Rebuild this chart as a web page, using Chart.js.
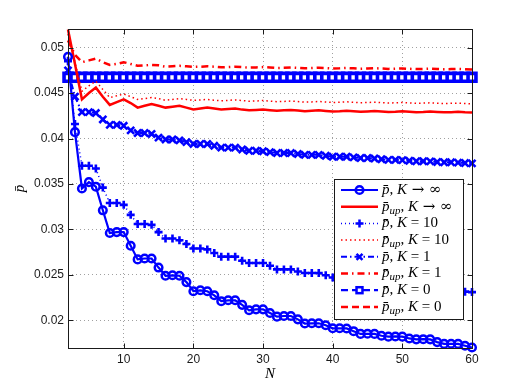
<!DOCTYPE html>
<html>
<head>
<meta charset="utf-8">
<script src="https://cdn.jsdelivr.net/npm/chart.js@4.4.1/dist/chart.umd.min.js"></script>
<style>
  body { margin: 0; background: #fff; }
  #marco { width: 522px; height: 392px; }
</style>
</head>
<body>
<div id="marco"><canvas id="grafica" width="522" height="392"></canvas></div>
<script>
// eje N
const valoresN = [2, 3, 4, 5, 6, 7, 8, 9, 10, 11, 12, 13, 14, 15, 16, 17, 18, 19, 20, 21,
  22, 23, 24, 25, 26, 27, 28, 29, 30, 31, 32, 33, 34, 35, 36, 37, 38, 39, 40, 41,
  42, 43, 44, 45, 46, 47, 48, 49, 50, 51, 52, 53, 54, 55, 56, 57, 58, 59, 60];

const ticksX = [10, 20, 30, 40, 50, 60];
const ticksY = [0.02, 0.025, 0.03, 0.035, 0.04, 0.045, 0.05];

// p barra, K -> inf
const pBarInf = [0.0490, 0.0407, 0.0345, 0.0352, 0.0347, 0.0321, 0.0296, 0.0297, 0.0297, 0.0282,
  0.0267, 0.0268, 0.0268, 0.0258, 0.0249, 0.02495, 0.0249, 0.0242, 0.0232, 0.0233,
  0.0232, 0.02275, 0.0221, 0.0222, 0.0222, 0.0217, 0.0211, 0.0212, 0.0212, 0.0208,
  0.0204, 0.02047, 0.02047, 0.0201, 0.01964, 0.01967, 0.01967, 0.01945, 0.01912, 0.01912,
  0.0191, 0.0188, 0.0185, 0.01852, 0.0185, 0.0183, 0.0182, 0.01822, 0.0182, 0.018,
  0.0179, 0.01792, 0.0179, 0.0176, 0.0174, 0.01742, 0.0174, 0.0172, 0.0170];

// p up, K -> inf
const pUpInf = [0.0520, 0.0482, 0.0443, 0.0450, 0.0456, 0.0446, 0.0437, 0.0440, 0.0443, 0.0439,
  0.0434, 0.0436, 0.0438, 0.0436, 0.0434, 0.0435, 0.0436, 0.0434, 0.0432, 0.0433,
  0.0434, 0.0433, 0.0432, 0.04325, 0.0433, 0.04318, 0.0431, 0.04315, 0.0432, 0.04312,
  0.04305, 0.0431, 0.04315, 0.04308, 0.0430, 0.04305, 0.0431, 0.04303, 0.04297, 0.0430,
  0.04305, 0.0430, 0.04295, 0.04298, 0.04302, 0.04297, 0.04292, 0.04295, 0.0430, 0.04295,
  0.0429, 0.04293, 0.04298, 0.04293, 0.04288, 0.0429, 0.04295, 0.0429, 0.04287];

// p barra, K = 10
const pBar10 = [0.0485, 0.0416, 0.0370, 0.0370, 0.0367, 0.0346, 0.0329, 0.0329, 0.0327, 0.0316,
  0.0306, 0.0306, 0.0305, 0.0297, 0.0290, 0.0290, 0.0288, 0.0284, 0.0279, 0.0279,
  0.0278, 0.0274, 0.0270, 0.0270, 0.0270, 0.02655, 0.0263, 0.0263, 0.0263, 0.0260,
  0.0256, 0.0256, 0.0256, 0.02536, 0.0252, 0.0252, 0.0252, 0.02496, 0.0247, 0.0247,
  0.0247, 0.0245, 0.02435, 0.02435, 0.02432, 0.02415, 0.0240, 0.0240, 0.0240, 0.02385,
  0.0237, 0.0237, 0.02368, 0.02355, 0.0234, 0.0234, 0.0234, 0.02315, 0.0231];

// p up, K = 10
const pUp10 = [0.0515, 0.0484, 0.0452, 0.0458, 0.0463, 0.0454, 0.0445, 0.0447, 0.0449, 0.0446,
  0.0443, 0.0444, 0.0445, 0.0444, 0.0442, 0.0443, 0.0444, 0.0443, 0.0442, 0.04425,
  0.0443, 0.04422, 0.04415, 0.0442, 0.04425, 0.04418, 0.0441, 0.04413, 0.04418, 0.04412,
  0.04405, 0.04408, 0.04412, 0.04407, 0.0440, 0.04403, 0.04408, 0.04402, 0.04396, 0.0440,
  0.04404, 0.04398, 0.04393, 0.04396, 0.0440, 0.04395, 0.0439, 0.04393, 0.04396, 0.04392,
  0.04387, 0.0439, 0.04393, 0.04388, 0.04384, 0.04387, 0.0439, 0.04385, 0.0438];

// p barra, K = 1
const pBar1 = [0.0475, 0.0446, 0.0429, 0.0429, 0.0428, 0.0421, 0.0415, 0.0415, 0.0414, 0.0409,
  0.0406, 0.0406, 0.0405, 0.0401, 0.0399, 0.0399, 0.0398, 0.0396, 0.0394, 0.0394,
  0.0394, 0.0392, 0.0390, 0.0390, 0.0390, 0.0388, 0.03865, 0.03865, 0.0386, 0.0385,
  0.0384, 0.0384, 0.0384, 0.0383, 0.0382, 0.0382, 0.0382, 0.0381, 0.0380, 0.0380,
  0.0380, 0.03792, 0.03785, 0.03785, 0.0378, 0.03772, 0.03765, 0.03765, 0.03762, 0.03755,
  0.0375, 0.0375, 0.03748, 0.03742, 0.03738, 0.03738, 0.03735, 0.0373, 0.03726];

// p up, K = 1
const pUp1 = [0.0508, 0.0492, 0.0484, 0.0486, 0.0488, 0.0484, 0.0481, 0.0482, 0.0484, 0.0482,
  0.0480, 0.04805, 0.0481, 0.04805, 0.0479, 0.04795, 0.0480, 0.04795, 0.04788, 0.0479,
  0.04795, 0.0479, 0.04783, 0.04786, 0.0479, 0.04785, 0.0478, 0.04782, 0.04786, 0.04781,
  0.04776, 0.04778, 0.04782, 0.04778, 0.04773, 0.04775, 0.04779, 0.04775, 0.0477, 0.04772,
  0.04776, 0.04772, 0.04768, 0.0477, 0.04773, 0.0477, 0.04766, 0.04768, 0.04771, 0.04767,
  0.04764, 0.04766, 0.04769, 0.04765, 0.04762, 0.04764, 0.04767, 0.04763, 0.0476];

// p barra, K = 0
const pBar0 = [0.04673, 0.04673, 0.04673, 0.04673, 0.04673, 0.04673, 0.04673, 0.04673, 0.04673, 0.04673,
  0.04673, 0.04673, 0.04673, 0.04673, 0.04673, 0.04673, 0.04673, 0.04673, 0.04673, 0.04673,
  0.04673, 0.04673, 0.04673, 0.04673, 0.04673, 0.04673, 0.04673, 0.04673, 0.04673, 0.04673,
  0.04673, 0.04673, 0.04673, 0.04673, 0.04673, 0.04673, 0.04673, 0.04673, 0.04673, 0.04673,
  0.04673, 0.04673, 0.04673, 0.04673, 0.04673, 0.04673, 0.04673, 0.04673, 0.04673, 0.04673,
  0.04673, 0.04673, 0.04673, 0.04673, 0.04673, 0.04673, 0.04673, 0.04673, 0.04673];

// p up, K = 0
const pUp0 = [0.04673, 0.04673, 0.04673, 0.04673, 0.04673, 0.04673, 0.04673, 0.04673, 0.04673, 0.04673,
  0.04673, 0.04673, 0.04673, 0.04673, 0.04673, 0.04673, 0.04673, 0.04673, 0.04673, 0.04673,
  0.04673, 0.04673, 0.04673, 0.04673, 0.04673, 0.04673, 0.04673, 0.04673, 0.04673, 0.04673,
  0.04673, 0.04673, 0.04673, 0.04673, 0.04673, 0.04673, 0.04673, 0.04673, 0.04673, 0.04673,
  0.04673, 0.04673, 0.04673, 0.04673, 0.04673, 0.04673, 0.04673, 0.04673, 0.04673, 0.04673,
  0.04673, 0.04673, 0.04673, 0.04673, 0.04673, 0.04673, 0.04673, 0.04673, 0.04673];

const etiquetas = ["p\u0304, K \u2192 \u221E", "p\u0304_up, K \u2192 \u221E",
  "p\u0304, K = 10", "p\u0304_up, K = 10",
  "p\u0304, K = 1", "p\u0304_up, K = 1",
  "p\u0304, K = 0", "p\u0304_up, K = 0"];

const AZUL = "#0000ff";
const ROJO = "#ff0000";

// estilo de cada serie (mismo orden que etiquetas)
const estilos = [
  { data: pBarInf, color: AZUL, ancho: 2.2, dash: [], punto: "circle", r: 3.8, bw: 2.5, relleno: "rgba(0,0,0,0)" },
  { data: pUpInf, color: ROJO, ancho: 2.5, dash: [], punto: false },
  { data: pBar10, color: AZUL, ancho: 1.5, dash: [1, 3], punto: "cross", r: 4, bw: 2.6 },
  { data: pUp10, color: ROJO, ancho: 1.5, dash: [1.5, 3], punto: false },
  { data: pBar1, color: AZUL, ancho: 2, dash: [6, 3, 1.5, 3], punto: "crossRot", r: 5, bw: 2.6 },
  { data: pUp1, color: ROJO, ancho: 2.5, dash: [7, 4, 1.5, 4], punto: false },
  { data: pBar0, color: AZUL, ancho: 2.2, dash: [7, 4], punto: "rect", r: 5.6, bw: 3.6, relleno: "#ffffff" },
  { data: pUp0, color: ROJO, ancho: 2.5, dash: [7, 4], punto: false }
];

const datasets = estilos.map((s, i) => ({
  label: etiquetas[i],
  data: valoresN.map((n, j) => ({ x: n, y: s.data[j] })),
  borderColor: s.color,
  borderWidth: s.ancho,
  borderDash: s.dash,
  pointStyle: s.punto || "circle",
  pointRadius: s.punto ? s.r : 0,
  pointBorderWidth: s.bw || 0,
  pointBorderColor: s.color,
  pointBackgroundColor: s.relleno || s.color,
  tension: 0,
  fill: false,
  clip: false
}));

// divide la etiqueta en trozos: letras en cursiva, lo que sigue a "_" como subindice
function trozos(label) {
  const out = [];
  let sub = false;
  for (const ch of label) {
    if (ch === "_") { sub = true; continue; }
    const letra = /[A-Za-z\u0304]/.test(ch);
    if (sub && !letra) sub = false;
    const ultimo = out[out.length - 1];
    if (ultimo && ultimo.italic === letra && ultimo.sub === sub) ultimo.t += ch;
    else out.push({ t: ch, italic: letra, sub: sub });
  }
  return out;
}

function marcador(ctx, estilo, x, y, r) {
  ctx.beginPath();
  if (estilo === "circle") {
    ctx.arc(x, y, r, 0, Math.PI * 2);
    ctx.stroke();
  } else if (estilo === "cross") {
    ctx.moveTo(x - r, y); ctx.lineTo(x + r, y);
    ctx.moveTo(x, y - r); ctx.lineTo(x, y + r);
    ctx.stroke();
  } else if (estilo === "crossRot") {
    const d = r * Math.SQRT1_2;
    ctx.moveTo(x - d, y - d); ctx.lineTo(x + d, y + d);
    ctx.moveTo(x - d, y + d); ctx.lineTo(x + d, y - d);
    ctx.stroke();
  } else if (estilo === "rect") {
    const d = r * Math.SQRT1_2;
    ctx.fillStyle = "#fff";
    ctx.fillRect(x - d, y - d, 2 * d, 2 * d);
    ctx.strokeRect(x - d, y - d, 2 * d, 2 * d);
  }
}

const marcoEjes = {
  id: "marcoEjes",
  afterDatasetsDraw(chart) {
    const { ctx, chartArea: a, scales: { x, y } } = chart;
    const l = Math.round(a.left) + 0.5, r = Math.round(a.right) + 0.5;
    const t = Math.round(a.top) + 0.5, b = Math.round(a.bottom) + 0.5;
    ctx.save();
    ctx.strokeStyle = "#1a1a1a";
    ctx.lineWidth = 1;
    ctx.setLineDash([]);
    ctx.strokeRect(l, t, r - l, b - t);
    ctx.beginPath();
    ticksX.forEach(v => {
      const px = Math.round(x.getPixelForValue(v)) + 0.5;
      ctx.moveTo(px, b); ctx.lineTo(px, b - 5);
      ctx.moveTo(px, t); ctx.lineTo(px, t + 5);
    });
    ticksY.forEach(v => {
      const py = Math.round(y.getPixelForValue(v)) + 0.5;
      ctx.moveTo(l, py); ctx.lineTo(l + 5, py);
      ctx.moveTo(r, py); ctx.lineTo(r - 5, py);
    });
    ctx.stroke();
    ctx.restore();
  }
};

const leyenda = {
  id: "leyenda",
  afterDraw(chart) {
    const ctx = chart.ctx;
    const caja = { x: 334.5, y: 179.5, w: 129, h: 140 };
    ctx.save();
    ctx.fillStyle = "#fff";
    ctx.fillRect(caja.x, caja.y, caja.w, caja.h);
    ctx.strokeStyle = "#1a1a1a";
    ctx.lineWidth = 1;
    ctx.strokeRect(caja.x, caja.y, caja.w, caja.h);
    estilos.forEach((s, i) => {
      const yy = 190 + i * 16.7;
      ctx.strokeStyle = s.color;
      ctx.lineWidth = s.ancho;
      ctx.setLineDash(s.dash);
      ctx.beginPath();
      ctx.moveTo(341, yy); ctx.lineTo(378, yy);
      ctx.stroke();
      ctx.setLineDash([]);
      if (s.punto) {
        ctx.lineWidth = Math.min(s.bw, 2.5);
        marcador(ctx, s.punto, 359.5, yy, Math.min(s.r, 4.2));
      }
      let xx = 382;
      ctx.fillStyle = "#000";
      ctx.textBaseline = "middle";
      trozos(etiquetas[i]).forEach(p => {
        const simbolo = /[\u2192\u221E]/.test(p.t);
        ctx.font = (p.italic ? "italic " : "") + (p.sub ? "11px" : "15px") +
          (simbolo ? " 'DejaVu Serif', serif" : " 'Liberation Serif', serif");
        ctx.fillText(p.t, xx, yy + (p.sub ? 4 : 0));
        xx += ctx.measureText(p.t).width;
      });
    });
    ctx.restore();
  }
};

new Chart(document.getElementById("grafica"), {
  type: "line",
  data: { datasets: datasets },
  options: {
    responsive: false,
    animation: false,
    devicePixelRatio: 1,
    layout: { padding: { left: 0, right: 50, top: 29, bottom: 0 } },
    plugins: { legend: { display: false }, tooltip: { enabled: false } },
    scales: {
      x: {
        type: "linear",
        min: 2,
        max: 60,
        afterBuildTicks: s => { s.ticks = ticksX.map(v => ({ value: v })); },
        afterFit: s => { s.height = 44; },
        ticks: { autoSkip: false, maxRotation: 0, padding: 4, color: "#1a1a1a",
          font: { family: "'Liberation Sans', Arial, sans-serif", size: 12 } },
        grid: { color: "#a0a0a0", drawTicks: false },
        border: { display: false, dash: [1, 3] },
        title: { display: true, text: "N", color: "#000", padding: { top: 0, bottom: 9 },
          font: { family: "'Liberation Serif', serif", style: "italic", size: 15 } }
      },
      y: {
        min: 0.01695,
        max: 0.05205,
        afterBuildTicks: s => { s.ticks = ticksY.map(v => ({ value: v })); },
        afterFit: s => { s.width = 68; },
        ticks: { padding: 4, color: "#1a1a1a", callback: v => String(v),
          font: { family: "'Liberation Sans', Arial, sans-serif", size: 12 } },
        grid: { color: "#a0a0a0", drawTicks: false },
        border: { display: false, dash: [1, 3] },
        title: { display: true, text: "p\u0304", color: "#000", padding: { top: 11, bottom: 0 },
          font: { family: "'Liberation Serif', serif", style: "italic", size: 15 } }
      }
    }
  },
  plugins: [marcoEjes, leyenda]
});
</script>
</body>
</html>
